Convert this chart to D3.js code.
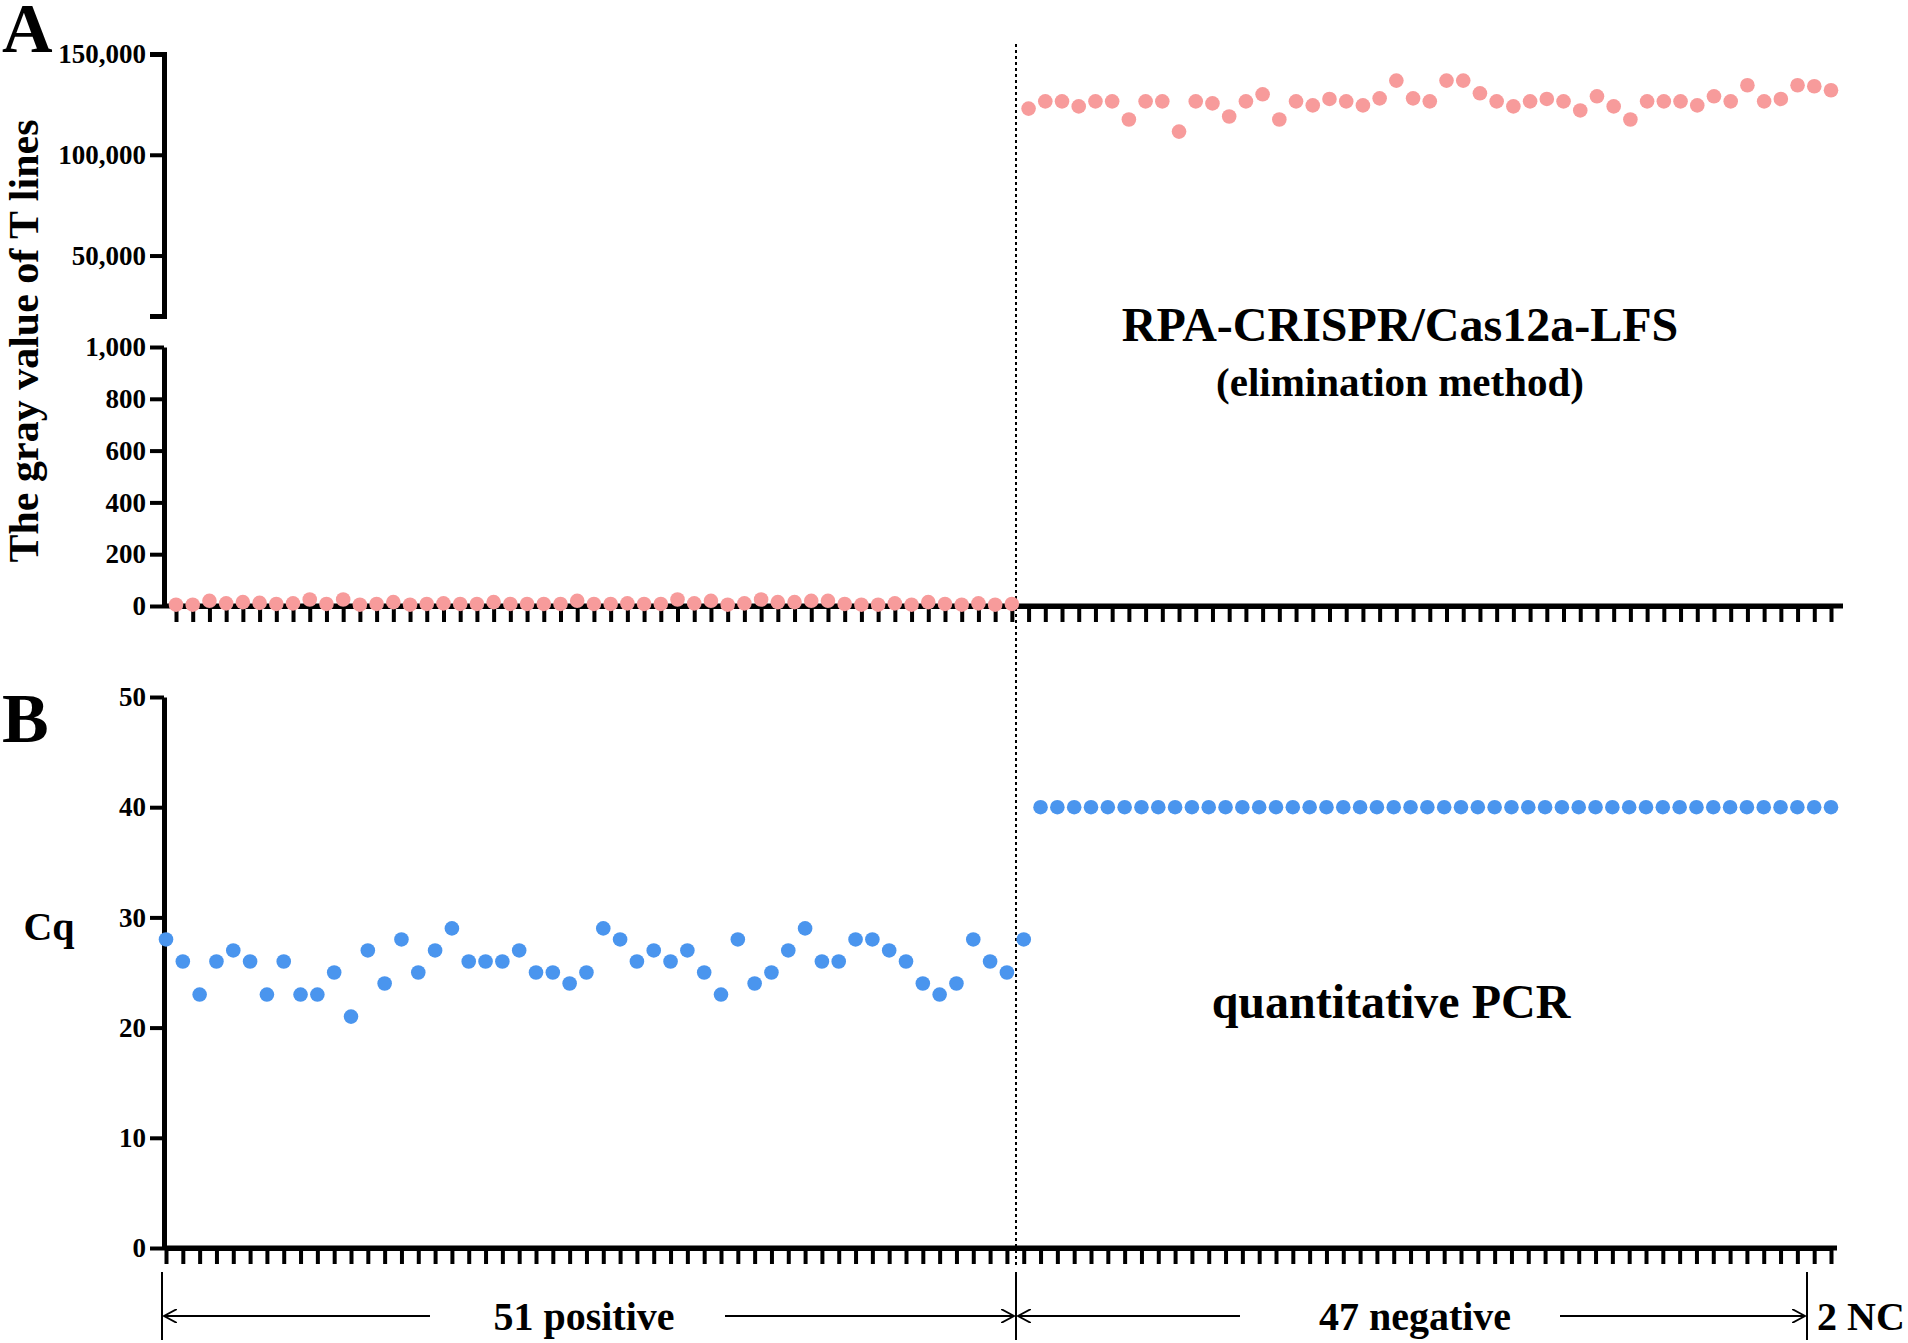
<!DOCTYPE html><html><head><meta charset="utf-8"><script src="https://cdn.jsdelivr.net/npm/d3@7"></script>
<style>body{margin:0;background:#fff}text{font-family:"Liberation Serif","Times New Roman",serif;font-weight:bold}</style></head><body><svg id="c" width="1908" height="1343"></svg><script>
const pinkPositive=[5,5,20,10,15,12,8,10,25,8,25,5,8,15,5,8,10,8,8,15,8,8,8,8,20,8,8,10,8,8,25,10,20,5,10,25,15,15,20,20,8,5,5,10,5,15,8,5,10,5,8];
const pinkNegative=[122900,126500,126500,124000,126500,126500,117500,126500,126500,111500,126500,125500,119000,126500,130000,117500,126500,124500,127700,126500,124500,128000,136800,128000,126500,136800,136800,130500,126500,124000,126500,127700,126500,122000,129000,124000,117500,126500,126500,126500,124500,129000,126500,134500,126500,127700,134500,134000,132000];
const cqPositive=[28,26,23,26,27,26,23,26,23,23,25,21,27,24,28,25,27,29,26,26,26,27,25,25,24,25,29,28,26,27,26,27,25,23,28,24,25,27,29,26,26,28,28,27,26,24,23,24,28,26,25,28];
const cqNegative=Array(48).fill(40);
const upperTicks=[50000,100000,150000], lowerTicks=[0,200,400,600,800,1000], cqTicks=[0,10,20,30,40,50];
const svg=d3.select("#c");
const pink="#f79b9b", blue="#4a95ee";
const pinkAll=pinkPositive.concat(pinkNegative), cqAll=cqPositive.concat(cqNegative);
const xA=d3.scaleLinear().domain([0,99]).range([176,1831]);
const xB=d3.scaleLinear().domain([0,99]).range([166,1831]);
const yUp=d3.scaleLinear().domain([20000,150000]).range([316,54]);
const yLo=d3.scaleLinear().domain([0,1000]).range([606,347]);
const yB=d3.scaleLinear().domain([0,50]).range([1248,697]);
const AX=164;
function styleAxis(g){g.selectAll("path").attr("stroke","#000").attr("stroke-width",5);g.selectAll("line").attr("stroke","#000").attr("stroke-width",4);g.selectAll("text").attr("font-size",27).attr("font-family","Liberation Serif").attr("font-weight","bold");}
const fmt=d3.format(",");
let g=svg.append("g").attr("transform",`translate(${AX},0)`).call(d3.axisLeft(yUp).tickValues(upperTicks).tickFormat(fmt).tickSize(14).tickPadding(4).tickSizeOuter(14));styleAxis(g);
g=svg.append("g").attr("transform",`translate(${AX},0)`).call(d3.axisLeft(yLo).tickValues(lowerTicks).tickFormat(fmt).tickSize(14).tickPadding(4).tickSizeOuter(0));styleAxis(g);
g=svg.append("g").attr("transform",`translate(${AX},0)`).call(d3.axisLeft(yB).tickValues(cqTicks).tickSize(14).tickPadding(4).tickSizeOuter(0));styleAxis(g);
const idx=d3.range(100);
g=svg.append("g").attr("transform","translate(0,606)").call(d3.axisBottom(xA).tickValues(idx).tickFormat("").tickSize(16).tickSizeOuter(0));styleAxis(g);
svg.append("line").attr("x1",AX).attr("x2",1843).attr("y1",606).attr("y2",606).attr("stroke","#000").attr("stroke-width",5);
g=svg.append("g").attr("transform","translate(0,1248)").call(d3.axisBottom(xB).tickValues(idx).tickFormat("").tickSize(16).tickSizeOuter(0));styleAxis(g);
svg.append("line").attr("x1",AX).attr("x2",1837).attr("y1",1248).attr("y2",1248).attr("stroke","#000").attr("stroke-width",5);
svg.append("line").attr("x1",1016).attr("x2",1016).attr("y1",44).attr("y2",1268).attr("stroke","#000").attr("stroke-width",2).attr("stroke-dasharray","3,3");
svg.append("g").selectAll("circle").data(pinkAll).join("circle").attr("cx",(d,i)=>xA(i)).attr("cy",(d,i)=>i<51?yLo(d):yUp(d)).attr("r",7.3).attr("fill",pink);
svg.append("g").selectAll("circle").data(cqAll).join("circle").attr("cx",(d,i)=>xB(i)).attr("cy",d=>yB(d)).attr("r",7.3).attr("fill",blue);
svg.append("text").attr("x",2).attr("y",52).attr("font-size",70).text("A");
svg.append("text").attr("x",2).attr("y",742).attr("font-size",70).text("B");
svg.append("text").attr("transform","translate(38,341) rotate(-90)").attr("text-anchor","middle").attr("font-size",42).text("The gray value of T lines");
svg.append("text").attr("x",49).attr("y",940).attr("text-anchor","middle").attr("font-size",40).text("Cq");
svg.append("text").attr("x",1400).attr("y",341).attr("text-anchor","middle").attr("font-size",48).text("RPA-CRISPR/Cas12a-LFS");
svg.append("text").attr("x",1400).attr("y",396).attr("text-anchor","middle").attr("font-size",41).text("(elimination method)");
svg.append("text").attr("x",1391).attr("y",1018).attr("text-anchor","middle").attr("font-size",48).text("quantitative PCR");
const ann=svg.append("g");
[162,1016,1807].forEach(x=>ann.append("line").attr("x1",x).attr("x2",x).attr("y1",1272).attr("y2",1340).attr("stroke","#000").attr("stroke-width",2));
const defs=svg.append("defs");
defs.append("marker").attr("id","ah").attr("viewBox","0 0 12 12").attr("refX",11).attr("refY",6).attr("markerWidth",14).attr("markerHeight",14).attr("markerUnits","userSpaceOnUse").attr("orient","auto-start-reverse").append("path").attr("d","M0,0 L11,6 L0,12").attr("fill","none").attr("stroke","#000").attr("stroke-width",1.5);
function seg(x1,x2,start){ann.append("line").attr("x1",x1).attr("x2",x2).attr("y1",1316).attr("y2",1316).attr("stroke","#000").attr("stroke-width",2).attr(start?"marker-start":"marker-end","url(#ah)");}
seg(164,430,true);seg(725,1014,false);seg(1018,1240,true);seg(1560,1805,false);
ann.append("text").attr("x",584).attr("y",1330).attr("text-anchor","middle").attr("font-size",40).text("51 positive");
ann.append("text").attr("x",1415).attr("y",1330).attr("text-anchor","middle").attr("font-size",40).text("47 negative");
ann.append("text").attr("x",1861).attr("y",1330).attr("text-anchor","middle").attr("font-size",40).text("2 NC");
</script></body></html>
